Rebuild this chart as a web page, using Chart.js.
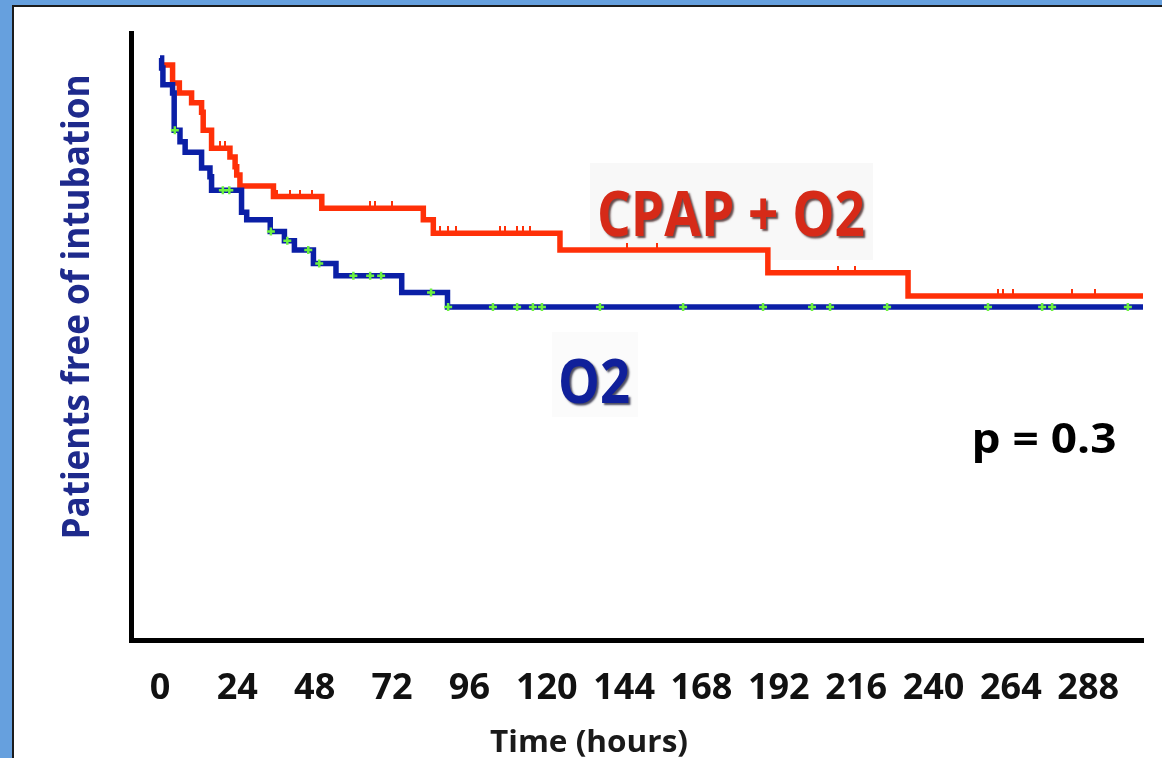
<!DOCTYPE html>
<html>
<head>
<meta charset="utf-8">
<script src="https://cdn.jsdelivr.net/npm/chart.js@4.4.1/dist/chart.umd.min.js"></script>
<style>
  html, body { margin: 0; padding: 0; }
  body { width: 1162px; height: 758px; background: #66a0de; position: relative; overflow: hidden; }
  #panel { position: absolute; left: 12px; top: 5px; right: 0; bottom: 0; background: #fff;
           border-top: 2px solid #1c1c1c; border-left: 2px solid #1c1c1c; }
  #km { position: absolute; left: 0; top: 0; }
</style>
</head>
<body>
<div id="panel"></div>
<canvas id="km" width="1162" height="758"></canvas>
<script>
// x ticks (hours)
const hourTicks = [0, 24, 48, 72, 96, 120, 144, 168, 192, 216, 240, 264, 288];

// O2 arm: step times (h) and fraction free of intubation
const o2Times = [0, 0.5, 0.9, 3.9, 4.4, 6.2, 7.8, 12.9, 15.5, 16.0, 25.3, 26.9, 34.2, 38.6, 41.7, 47.6, 54.6, 75.0, 89.2, 305];
const o2Surv  = [1.0, 0.983, 0.954, 0.940, 0.876, 0.856, 0.838, 0.811, 0.796, 0.773, 0.735, 0.722, 0.702, 0.686, 0.670, 0.647, 0.626, 0.597, 0.572, 0.572];
const o2Censored = [4.6, 19.5, 21.5, 34.4, 39.5, 46.0, 49.4, 60.0, 65.2, 68.6, 84.1, 89.4, 103.3, 110.8, 115.7, 118.5,
                    136.5, 162.3, 187.1, 202.3, 207.9, 225.6, 256.9, 273.7, 276.8, 300.3];

// CPAP + O2 arm
const cpapTimes = [1, 3.9, 6.0, 9.8, 12.9, 13.4, 16.0, 21.7, 23.3, 23.8, 24.8, 35.2, 50.2, 81.7, 84.8, 124.1, 188.6, 232.1, 305];
const cpapSurv  = [0.988, 0.957, 0.940, 0.923, 0.907, 0.876, 0.845, 0.830, 0.813, 0.799, 0.780, 0.762, 0.742, 0.722, 0.699, 0.670, 0.631, 0.591, 0.591];
const cpapCensored = [18.6, 20.2, 36.3, 40.3, 43.4, 47.2, 65.2, 66.7, 72.0, 86.9, 89.4, 91.8, 105.5, 107.0, 110.8, 112.6, 114.8,
                      144.9, 154.2, 210.4, 215.6, 260.0, 261.6, 264.7, 283.0, 290.1];

const RED = '#ff3008';
const BLUE = '#0b1fa6';

// value of a KM step curve at time t
function stepAt(times, surv, t) {
  let v = surv[0];
  for (let i = 0; i < times.length; i++) {
    if (times[i] <= t) v = surv[i];
  }
  return v;
}

const curve = (times, surv) => times.map((t, i) => ({ x: t, y: surv[i] }));
const marks = (cens, times, surv) => cens.map(t => ({ x: t, y: stepAt(times, surv, t) }));

// small upward tick used for censored CPAP patients
const tickMark = document.createElement('canvas');
tickMark.width = 2; tickMark.height = 14;
const tctx = tickMark.getContext('2d');
tctx.fillStyle = RED;
tctx.fillRect(0, 0, 2, 7);

function fitText(ctx, text, x, y, width, font, color, opts = {}) {
  ctx.save();
  ctx.font = font;
  const w = ctx.measureText(text).width;
  ctx.translate(x, y);
  if (opts.rotate) ctx.rotate(opts.rotate);
  ctx.scale(width / w, 1);
  ctx.textAlign = 'center';
  ctx.textBaseline = 'alphabetic';
  if (opts.shadow) {
    ctx.shadowColor = opts.shadow;
    ctx.shadowOffsetX = 2;
    ctx.shadowOffsetY = 2;
    ctx.shadowBlur = 2;
  }
  ctx.fillStyle = color;
  ctx.fillText(text, 0, 0);
  ctx.restore();
}

const annotations = {
  id: 'annotations',
  beforeDatasetsDraw(chart) {
    const ctx = chart.ctx;
    ctx.save();
    ctx.fillStyle = '#f8f8f8';
    ctx.fillRect(590, 163, 283, 97);
    ctx.fillStyle = '#fbfbfb';
    ctx.fillRect(552, 332, 86, 85);
    ctx.restore();
  },
  afterDraw(chart) {
    const ctx = chart.ctx;
    fitText(ctx, 'CPAP + O2', 731, 236, 268, 'bold 62px "Open Sans"', '#d62a18', { shadow: 'rgba(40,0,0,0.7)' });
    fitText(ctx, 'O2', 594, 403, 72, 'bold 60px "Open Sans"', '#10209a', { shadow: 'rgba(0,0,30,0.7)' });
    fitText(ctx, 'p = 0.3', 1044, 453, 145, 'bold 42px "Open Sans"', '#000');
    fitText(ctx, 'Patients free of intubation', 89, 307, 465, 'bold 37px "Open Sans"', '#1e2a8c', { rotate: -Math.PI / 2 });
    fitText(ctx, 'Time (hours)', 589, 752, 198, 'bold 30px "Open Sans"', '#1a1a1a');
  }
};

new Chart(document.getElementById('km'), {
  type: 'line',
  data: {
    datasets: [
      {
        label: 'O2 censored',
        type: 'scatter',
        data: marks(o2Censored, o2Times, o2Surv),
        pointStyle: 'cross',
        pointRadius: 4,
        borderWidth: 2.5,
        borderColor: '#6cf040',
        backgroundColor: '#6cf040',
        order: 0
      },
      {
        label: 'CPAP censored',
        type: 'scatter',
        data: marks(cpapCensored, cpapTimes, cpapSurv),
        pointStyle: tickMark,
        pointRadius: 4,
        order: 1
      },
      {
        label: 'O2',
        data: curve(o2Times, o2Surv),
        stepped: 'before',
        borderColor: BLUE,
        borderWidth: 5.5,
        pointRadius: 0,
        fill: false,
        order: 2
      },
      {
        label: 'CPAP + O2',
        data: curve(cpapTimes, cpapSurv),
        stepped: 'before',
        borderColor: RED,
        borderWidth: 5.5,
        pointRadius: 0,
        fill: false,
        order: 3
      }
    ]
  },
  options: {
    responsive: false,
    animation: false,
    layout: { padding: { left: 0, top: 33, right: 19, bottom: 0 } },
    plugins: { legend: { display: false }, tooltip: { enabled: false } },
    scales: {
      x: {
        type: 'linear',
        min: -9,
        max: 305,
        afterBuildTicks: scale => { scale.ticks = hourTicks.map(v => ({ value: v })); },
        afterFit: scale => { scale.height = 118; },
        grid: { display: false, drawTicks: false },
        border: { display: true, color: '#000', width: 5 },
        ticks: {
          autoSkip: false,
          maxRotation: 0,
          padding: 27,
          color: '#111',
          font: { family: '"Open Sans"', size: 36, weight: 'bold' }
        }
      },
      y: {
        min: 0,
        max: 1.043,
        afterFit: scale => { scale.width = 131; },
        grid: { display: false, drawTicks: false },
        border: { display: true, color: '#000', width: 5 },
        ticks: { display: false }
      }
    }
  },
  plugins: [annotations]
});
</script>
</body>
</html>
